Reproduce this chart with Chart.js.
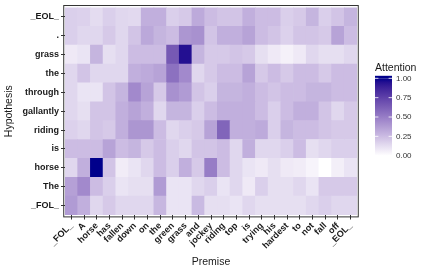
<!DOCTYPE html>
<html>
<head>
<meta charset="utf-8">
<script src="https://cdn.jsdelivr.net/npm/chart.js@4"></script>
<style>html,body{margin:0;padding:0;background:#fff}</style>
</head>
<body>
<canvas id="attention" width="427" height="270"></canvas>
<script>
// premise tokens (x) and hypothesis tokens (y, bottom to top)
var premise = ["_FOL_","A","horse","has","fallen","down","on","the","green","grass","and","jockey","riding","top","is","trying","his","hardest","to","not","fall","off","_EOL_"];
var hypothesis = ["_FOL_","The","horse","is","riding","gallantly","through","the","grass",".","_EOL_"];

// attention weights, one array per hypothesis token
var attFOL =       [0.38,0.30,0.15,0.20,0.15,0.15,0.15,0.27,0.10,0.10,0.26,0.12,0.12,0.10,0.15,0.12,0.12,0.12,0.12,0.15,0.18,0.15,0.15];
var attThe =       [0.36,0.45,0.25,0.18,0.10,0.12,0.12,0.38,0.10,0.10,0.15,0.18,0.10,0.15,0.08,0.18,0.12,0.12,0.15,0.10,0.20,0.20,0.20];
var attHorse =     [0.15,0.30,1.00,0.22,0.07,0.10,0.15,0.25,0.18,0.30,0.20,0.50,0.25,0.15,0.10,0.08,0.12,0.08,0.07,0.04,0.00,0.06,0.10];
var attIs =        [0.25,0.25,0.25,0.35,0.25,0.28,0.20,0.25,0.18,0.15,0.22,0.22,0.25,0.15,0.30,0.15,0.15,0.18,0.25,0.12,0.15,0.18,0.18];
var attRiding =    [0.17,0.15,0.22,0.20,0.30,0.40,0.40,0.25,0.15,0.18,0.20,0.35,0.60,0.30,0.30,0.32,0.18,0.28,0.25,0.25,0.22,0.20,0.20];
var attGallantly = [0.15,0.12,0.22,0.22,0.30,0.35,0.30,0.15,0.28,0.28,0.18,0.25,0.30,0.30,0.30,0.25,0.18,0.25,0.30,0.30,0.22,0.15,0.20];
var attThrough =   [0.15,0.10,0.10,0.22,0.28,0.45,0.35,0.20,0.42,0.38,0.22,0.18,0.28,0.28,0.30,0.25,0.22,0.25,0.25,0.28,0.28,0.25,0.25];
var attThe2 =      [0.15,0.22,0.15,0.15,0.15,0.30,0.32,0.35,0.55,0.45,0.15,0.20,0.25,0.25,0.35,0.20,0.25,0.20,0.25,0.25,0.20,0.25,0.25];
var attGrass =     [0.08,0.10,0.28,0.12,0.15,0.25,0.25,0.25,0.65,0.95,0.28,0.20,0.20,0.22,0.20,0.12,0.08,0.05,0.08,0.15,0.12,0.12,0.15];
var attDot =       [0.18,0.15,0.15,0.20,0.15,0.22,0.33,0.28,0.25,0.40,0.42,0.22,0.30,0.30,0.35,0.25,0.22,0.17,0.22,0.22,0.20,0.35,0.25];
var attEOL =       [0.18,0.17,0.13,0.18,0.15,0.14,0.30,0.30,0.18,0.20,0.32,0.25,0.22,0.22,0.30,0.25,0.25,0.18,0.20,0.28,0.18,0.22,0.28];

var legendBreaks = [0, 0.25, 0.5, 0.75, 1];

var rows = [attFOL, attThe, attHorse, attIs, attRiding, attGallantly, attThrough, attThe2, attGrass, attDot, attEOL];

// white -> darkblue, interpolated in Lab like ggplot
function toLin(c){ c/=255; return c<=0.04045 ? c/12.92 : Math.pow((c+0.055)/1.055,2.4); }
function fromLin(c){ c = c<=0.0031308 ? 12.92*c : 1.055*Math.pow(c,1/2.4)-0.055; return Math.round(Math.max(0,Math.min(1,c))*255); }
function rgbToLab(r,g,b){
  r=toLin(r); g=toLin(g); b=toLin(b);
  var x=(0.4124*r+0.3576*g+0.1805*b)/0.95047, y=0.2126*r+0.7152*g+0.0722*b, z=(0.0193*r+0.1192*g+0.9505*b)/1.08883;
  function f(t){ return t>0.008856 ? Math.cbrt(t) : 7.787*t+16/116; }
  return [116*f(y)-16, 500*(f(x)-f(y)), 200*(f(y)-f(z))];
}
function labToRgb(L,a,b){
  var fy=(L+16)/116, fx=fy+a/500, fz=fy-b/200;
  function fi(t){ return t*t*t>0.008856 ? t*t*t : (t-16/116)/7.787; }
  var x=fi(fx)*0.95047, y=fi(fy), z=fi(fz)*1.08883;
  var r= 3.2406*x-1.5372*y-0.4986*z, g=-0.9689*x+1.8758*y+0.0415*z, bb=0.0557*x-0.2040*y+1.0570*z;
  return 'rgb('+fromLin(r)+','+fromLin(g)+','+fromLin(bb)+')';
}
var lowLab = rgbToLab(255,255,255), highLab = rgbToLab(0,0,139);
function fill(v){
  return labToRgb(lowLab[0]+(highLab[0]-lowLab[0])*v, lowLab[1]+(highLab[1]-lowLab[1])*v, lowLab[2]+(highLab[2]-lowLab[2])*v);
}

var datasets = rows.map(function(vals, i){
  return {
    label: hypothesis[i],
    data: vals.map(function(){ return [i-0.5, i+0.5]; }),
    backgroundColor: vals.map(fill),
    borderWidth: 0,
    barPercentage: 1,
    categoryPercentage: 1,
    grouped: false
  };
});

var tickFont = {family:"'Liberation Sans', Arial, sans-serif", size:9, weight:'bold'};
var titleFont = {family:"'Liberation Sans', Arial, sans-serif", size:10.5};

// panel border (slightly outside the tiles) and the colourbar legend
var panelPlugin = {
  id: 'panel',
  afterDatasetsDraw: function(chart){
    var a = chart.chartArea, ctx = chart.ctx;
    var cw = (a.right-a.left)/premise.length, rh = (a.bottom-a.top)/hypothesis.length;
    ctx.save();
    ctx.strokeStyle = '#333333';
    ctx.lineWidth = 1;
    ctx.strokeRect(a.left-0.1*cw, a.top-0.1*rh, (a.right-a.left)+0.2*cw, (a.bottom-a.top)+0.2*rh);
    ctx.restore();
  },
  afterDraw: function(chart){
    var ctx = chart.ctx, a = chart.chartArea;
    var x0 = a.right + 18, w = 17, yTop = 78.3, yBot = 155.7;
    var barTop = yTop - 2.5, barBot = yBot + 2.5;
    ctx.save();
    var g = ctx.createLinearGradient(0, yBot, 0, yTop);
    for (var k = 0; k <= 20; k++) g.addColorStop(k/20, fill(k/20));
    ctx.fillStyle = fill(0);
    ctx.fillRect(x0, yBot, w, barBot-yBot);
    ctx.fillStyle = fill(1);
    ctx.fillRect(x0, barTop, w, yTop-barTop);
    ctx.fillStyle = g;
    ctx.fillRect(x0, yTop, w, yBot-yTop);
    ctx.strokeStyle = '#ffffff';
    ctx.lineWidth = 0.8;
    ctx.font = "8px 'Liberation Sans', Arial, sans-serif";
    ctx.textBaseline = 'middle';
    ctx.textAlign = 'left';
    legendBreaks.forEach(function(b){
      var y = yBot - (yBot-yTop)*b;
      ctx.beginPath();
      ctx.moveTo(x0, y); ctx.lineTo(x0+3.4, y);
      ctx.moveTo(x0+w-3.4, y); ctx.lineTo(x0+w, y);
      ctx.stroke();
      ctx.fillStyle = '#333333';
      ctx.fillText(b.toFixed(2), x0+w+4, y);
    });
    ctx.fillStyle = '#1a1a1a';
    ctx.font = "10.5px 'Liberation Sans', Arial, sans-serif";
    ctx.fillText('Attention', x0, 68.5);
    ctx.restore();
  }
};

new Chart(document.getElementById('attention').getContext('2d'), {
  type: 'bar',
  data: { labels: premise, datasets: datasets },
  options: {
    responsive: false,
    animation: false,
    layout: { padding: { left: 0, right: 70, top: 6.6, bottom: 0 } },
    plugins: { legend: { display: false }, tooltip: { enabled: false } },
    scales: {
      x: {
        type: 'category',
        offset: true,
        afterFit: function(s){ s.height = 55; },
        ticks: { autoSkip: false, minRotation: 45, maxRotation: 45, font: tickFont, color: '#1a1a1a', padding: 1 },
        grid: { drawOnChartArea: false, offset: false, tickLength: 4.5, tickColor: '#333333', tickWidth: 1 },
        border: { display: false },
        title: { display: true, text: 'Premise', font: titleFont, color: '#1a1a1a', padding: { top: 0, bottom: 1.5 } }
      },
      y: {
        type: 'linear',
        min: -0.5,
        max: 10.5,
        afterBuildTicks: function(s){ s.ticks = hypothesis.map(function(_, i){ return { value: i }; }); },
        afterFit: function(s){ s.width = 65; },
        ticks: { autoSkip: false, callback: function(v){ return hypothesis[v]; }, font: tickFont, color: '#1a1a1a', padding: 2 },
        grid: { drawOnChartArea: false, tickLength: 4, tickColor: '#333333', tickWidth: 1 },
        border: { display: false },
        title: { display: true, text: 'Hypothesis', font: titleFont, color: '#1a1a1a', padding: { top: 2.5, bottom: 0 } }
      }
    }
  },
  plugins: [panelPlugin]
});
</script>
</body>
</html>
